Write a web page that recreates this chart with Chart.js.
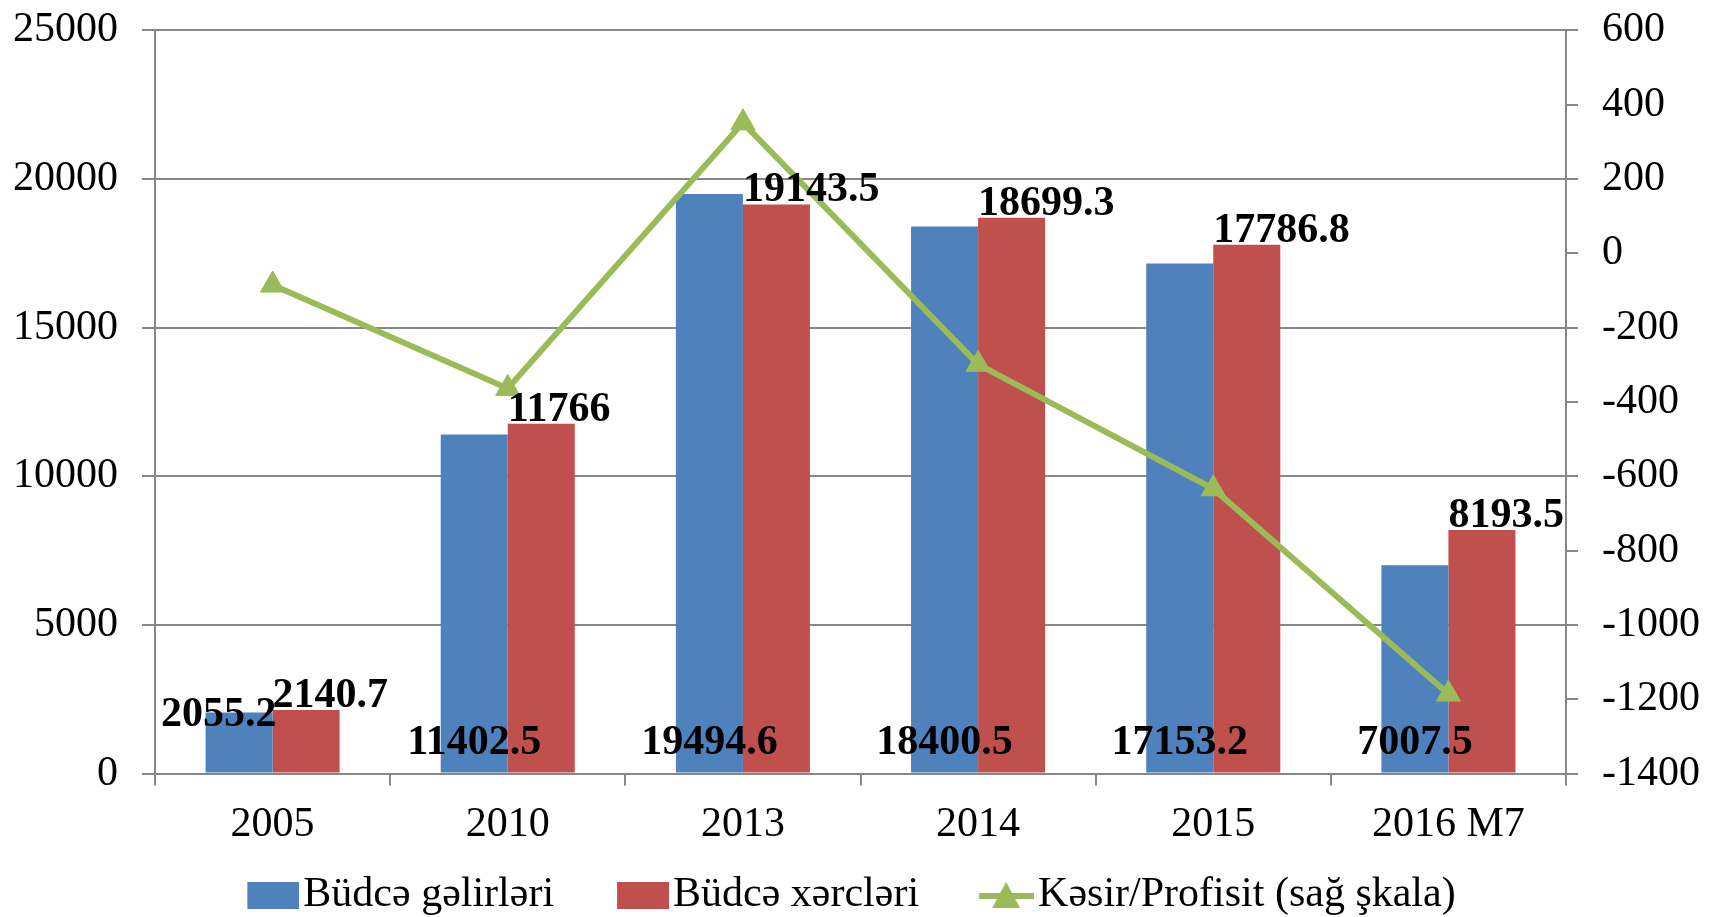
<!DOCTYPE html>
<html>
<head>
<meta charset="utf-8">
<script src="https://cdn.jsdelivr.net/npm/chart.js@4.4.0/dist/chart.umd.min.js"></script>
<style>
  html, body { margin: 0; padding: 0; background: #fff; }
</style>
</head>
<body>
<canvas id="chart" width="1723" height="917"></canvas>
<script>
// Büdcə gəlirləri / xərcləri və kəsir (mln. manat)
const years    = ['2005', '2010', '2013', '2014', '2015', '2016 M7'];
const gelirler = [2055.2, 11402.5, 19494.6, 18400.5, 17153.2, 7007.5];
const xercler  = [2140.7, 11766, 19143.5, 18699.3, 17786.8, 8193.5];
const kesir    = [-85.5, -363.5, 351.1, -298.8, -633.6, -1186];

const BLUE  = '#4F81BD';
const RED   = '#C0504D';
const GREEN = '#9BBB59';
const GRID  = '#878787';
const FONT  = '"Liberation Serif", "Times New Roman", serif';

// legend icons: blank on the left so the mark sits right next to its text
const LEG_BOX = 88;
const ICON_W = LEG_BOX + 34, ICON_H = 30;
function makeIcon(draw) {
  const c = document.createElement('canvas');
  c.width = ICON_W;
  c.height = ICON_H;
  draw(c.getContext('2d'));
  return c;
}
const blueIcon = makeIcon(g => { g.fillStyle = BLUE; g.fillRect(ICON_W - 52, 2, 52, 27); });
const redIcon  = makeIcon(g => { g.fillStyle = RED;  g.fillRect(ICON_W - 52, 2, 52, 27); });
const lineIcon = makeIcon(g => {
  g.strokeStyle = GREEN;
  g.lineWidth = 6;
  g.beginPath(); g.moveTo(ICON_W - 55, 16); g.lineTo(ICON_W, 16); g.stroke();
  g.fillStyle = GREEN;
  const cx = ICON_W - 28;
  g.beginPath(); g.moveTo(cx, 2); g.lineTo(cx + 14, 28); g.lineTo(cx - 14, 28); g.closePath(); g.fill();
});
const icons = [blueIcon, redIcon, lineIcon];

// data labels on the bars
const barLabels = {
  id: 'barLabels',
  afterDatasetsDraw(chart) {
    const ctx = chart.ctx;
    ctx.save();
    ctx.font = 'bold 42px ' + FONT;
    ctx.fillStyle = '#000';
    ctx.textBaseline = 'alphabetic';

    chart.getDatasetMeta(1).data.forEach((bar, i) => {
      ctx.textAlign = 'left';
      ctx.fillText(String(xercler[i]), bar.x - bar.width / 2, bar.y - 3);
    });

    chart.getDatasetMeta(0).data.forEach((bar, i) => {
      const h = bar.base - bar.y;
      if (h < 80) {
        ctx.textAlign = 'right';
        ctx.fillText(String(gelirler[i]), bar.x + bar.width / 2 + 4, bar.y + 14);
      } else {
        ctx.textAlign = 'center';
        ctx.fillText(String(gelirler[i]), bar.x, bar.base - 19);
      }
    });
    ctx.restore();
  }
};

Chart.defaults.font.family = FONT;
Chart.defaults.font.size = 42;
Chart.defaults.color = '#000';

new Chart(document.getElementById('chart'), {
  type: 'bar',
  data: {
    labels: years,
    datasets: [
      { label: 'Büdcə gəlirləri', data: gelirler, backgroundColor: BLUE, yAxisID: 'y', order: 1 },
      { label: 'Büdcə xərcləri', data: xercler, backgroundColor: RED, yAxisID: 'y', order: 1 },
      {
        type: 'line',
        label: 'Kəsir/Profisit (sağ şkala)',
        data: kesir,
        yAxisID: 'y2',
        order: 0,
        borderColor: GREEN,
        backgroundColor: GREEN,
        borderWidth: 6,
        pointStyle: 'triangle',
        pointRadius: 14,
        pointBorderWidth: 1,
        pointBackgroundColor: GREEN,
        pointBorderColor: GREEN,
        tension: 0,
      },
    ],
  },
  options: {
    responsive: false,
    animation: false,
    layout: { padding: { left: -11, right: -1, top: -3, bottom: -9 } },
    datasets: {
      bar: { categoryPercentage: 0.57, barPercentage: 1.0 },
    },
    plugins: {
      tooltip: { enabled: false },
      legend: {
        position: 'bottom',
        labels: {
          usePointStyle: true,
          pointStyleWidth: LEG_BOX,
          boxHeight: 27,
          padding: 10,
          font: { size: 42, family: FONT },
          sort: (a, b) => a.datasetIndex - b.datasetIndex,
          generateLabels(chart) {
            const items = Chart.defaults.plugins.legend.labels.generateLabels(chart);
            items.forEach(it => {
              it.pointStyle = icons[it.datasetIndex];
              it.lineWidth = 0;
              // trailing room balances the blank in front of each icon
              if (it.datasetIndex === 2) it.text += '      ';
            });
            return items;
          },
        },
      },
    },
    scales: {
      x: {
        offset: true,
        grid: { offset: true, drawOnChartArea: false, drawTicks: true, tickLength: 12, color: GRID, lineWidth: 2 },
        border: { color: GRID, width: 2 },
        ticks: { padding: 14, font: { size: 42 } },
      },
      y: {
        position: 'left',
        min: 0,
        max: 25000,
        ticks: { stepSize: 5000, padding: 24, font: { size: 42, lineHeight: 0.3 }, callback: v => String(v) },
        grid: { color: GRID, lineWidth: 2, tickLength: 13 },
        border: { color: GRID, width: 2 },
      },
      y2: {
        position: 'right',
        min: -1400,
        max: 600,
        ticks: { stepSize: 200, padding: 24, font: { size: 42, lineHeight: 0.3 }, callback: v => String(v) },
        grid: { drawOnChartArea: false, color: GRID, lineWidth: 2, tickLength: 12 },
        border: { color: GRID, width: 2 },
      },
    },
  },
  plugins: [barLabels],
});
</script>
</body>
</html>
